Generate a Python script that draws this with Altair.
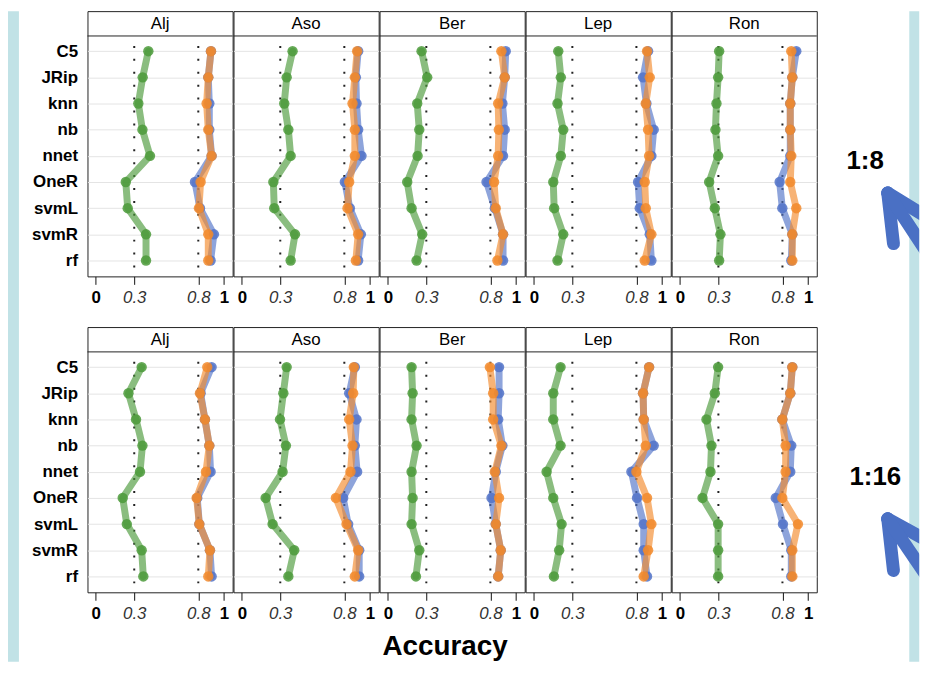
import altair as alt
import pandas as pd

sites = ["Alj", "Aso", "Ber", "Lep", "Ron"]
models = ["C5", "JRip", "knn", "nb", "nnet", "OneR", "svmL", "svmR", "rf"]
ratios = ["1:8", "1:16"]
x_ticks = [0, 0.3, 0.8, 1]
ref_lines = [0.3, 0.8]

# ---- ratio 1:8 ----
green_1_8 = {
    "Alj": [0.410, 0.366, 0.332, 0.364, 0.423, 0.234, 0.249, 0.392, 0.392],
    "Aso": [0.396, 0.350, 0.331, 0.363, 0.381, 0.246, 0.253, 0.415, 0.381],
    "Ber": [0.263, 0.307, 0.229, 0.245, 0.232, 0.151, 0.185, 0.268, 0.224],
    "Lep": [0.190, 0.210, 0.184, 0.229, 0.210, 0.151, 0.158, 0.229, 0.184],
    "Ron": [0.306, 0.298, 0.285, 0.277, 0.298, 0.228, 0.272, 0.316, 0.306],
}
blue_1_8 = {
    "Alj": [0.899, 0.878, 0.886, 0.886, 0.904, 0.774, 0.813, 0.922, 0.896],
    "Aso": [0.908, 0.890, 0.895, 0.908, 0.934, 0.804, 0.843, 0.929, 0.908],
    "Ber": [0.920, 0.912, 0.894, 0.912, 0.899, 0.770, 0.835, 0.899, 0.899],
    "Lep": [0.891, 0.852, 0.878, 0.935, 0.917, 0.813, 0.826, 0.904, 0.917],
    "Ron": [0.908, 0.877, 0.861, 0.861, 0.861, 0.778, 0.799, 0.877, 0.869],
}
orange_1_8 = {
    "Alj": [0.899, 0.878, 0.865, 0.878, 0.904, 0.818, 0.805, 0.878, 0.878],
    "Aso": [0.900, 0.882, 0.864, 0.882, 0.882, 0.838, 0.825, 0.908, 0.890],
    "Ber": [0.886, 0.912, 0.861, 0.866, 0.861, 0.829, 0.842, 0.899, 0.855],
    "Lep": [0.883, 0.904, 0.873, 0.891, 0.899, 0.865, 0.873, 0.917, 0.865],
    "Ron": [0.869, 0.877, 0.861, 0.861, 0.869, 0.861, 0.908, 0.877, 0.877],
}

# ---- ratio 1:16 ----
green_1_16 = {
    "Alj": [0.358, 0.255, 0.314, 0.364, 0.345, 0.210, 0.242, 0.358, 0.371],
    "Aso": [0.350, 0.324, 0.298, 0.344, 0.318, 0.186, 0.240, 0.409, 0.363],
    "Ber": [0.185, 0.193, 0.185, 0.224, 0.185, 0.193, 0.185, 0.245, 0.219],
    "Lep": [0.208, 0.151, 0.151, 0.208, 0.099, 0.151, 0.216, 0.197, 0.156],
    "Ron": [0.298, 0.272, 0.207, 0.246, 0.238, 0.176, 0.298, 0.298, 0.298],
}
blue_1_16 = {
    "Alj": [0.904, 0.818, 0.852, 0.886, 0.896, 0.792, 0.808, 0.891, 0.904],
    "Aso": [0.882, 0.838, 0.895, 0.882, 0.900, 0.791, 0.830, 0.916, 0.916],
    "Ber": [0.868, 0.868, 0.861, 0.894, 0.842, 0.809, 0.842, 0.881, 0.861],
    "Lep": [0.899, 0.852, 0.857, 0.935, 0.761, 0.805, 0.857, 0.857, 0.883],
    "Ron": [0.877, 0.861, 0.799, 0.869, 0.861, 0.748, 0.804, 0.869, 0.869],
}
orange_1_16 = {
    "Alj": [0.870, 0.813, 0.852, 0.886, 0.860, 0.787, 0.808, 0.891, 0.878],
    "Aso": [0.874, 0.869, 0.838, 0.864, 0.848, 0.734, 0.817, 0.908, 0.882],
    "Ber": [0.796, 0.822, 0.822, 0.886, 0.835, 0.868, 0.842, 0.881, 0.861],
    "Lep": [0.899, 0.852, 0.857, 0.873, 0.800, 0.883, 0.917, 0.891, 0.857],
    "Ron": [0.877, 0.861, 0.799, 0.825, 0.825, 0.799, 0.921, 0.877, 0.877],
}

series_data = {
    "1:8": [("blue", blue_1_8), ("orange", orange_1_8), ("green", green_1_8)],
    "1:16": [("blue", blue_1_16), ("orange", orange_1_16), ("green", green_1_16)],
}
colors = {"blue": "#5273c8", "orange": "#f28a2c", "green": "#4b9a3a"}

LIGHT_BLUE = "#c1e2e6"
FONT = "Liberation Sans"
PW = 146.1      # panel width
PH = 267        # panel height (strip + plot)
STRIP = 25
ROW_GAP = 51
LEFT_W = 79.3
SIDE_W = 102.2
BOTTOM = 655
XS = alt.Scale(domain=[-0.065, 1.068], nice=False, zero=False)
YS = alt.Scale(domain=models, range=[40.3, 251], padding=0)

one = pd.DataFrame({"a": [0]})
COND = "datum.value == 0 || datum.value == 1"


def x_axis(title=None):
    kw = dict(
        values=x_ticks, format="~g", tickSize=8, tickColor="#111", tickWidth=1, domain=False,
        grid=False, labelFontSize=17, labelPadding=5, labelFlush=False,
        labelOverlap=False, labelBound=False,
        labelColor={"condition": {"test": COND, "value": "#000"}, "value": "#333"},
        labelFontStyle={"condition": {"test": COND, "value": "normal"}, "value": "italic"},
        labelFontWeight={"condition": {"test": COND, "value": "bold"}, "value": "normal"},
    )
    if title:
        kw.update(title=title, titleFontSize=28, titleFontWeight="bold", titleX=65.5,
                  titleY=63, titleAlign="center", titleBaseline="alphabetic", titleColor="#000")
    else:
        kw.update(title=None)
    return alt.Axis(**kw)


def y_axis(show):
    if show:
        return alt.Axis(title=None, ticks=False, domain=False, grid=True, gridColor="#e4e4e4",
                        labelFontSize=17, labelFontWeight="bold", labelColor="#000", labelPadding=10)
    return alt.Axis(title=None, ticks=False, domain=False, grid=True, gridColor="#e4e4e4", labels=False)


def panel(ratio, site, show_y, title=None):
    layers = []
    thr = pd.DataFrame({"t": ref_lines})
    layers.append(
        alt.Chart(thr).mark_rule(strokeDash=[2, 11], strokeWidth=2, color="#222").encode(
            x=alt.X("t:Q", scale=XS, axis=x_axis(title)),
            y=alt.value(STRIP + 10), y2=alt.value(PH - 4),
        )
    )
    for name, d in series_data[ratio]:
        df = pd.DataFrame({"model": models, "value": d[site], "idx": list(range(len(models)))})
        base = alt.Chart(df).encode(
            x=alt.X("value:Q", scale=XS, axis=x_axis(title)),
            y=alt.Y("model:N", scale=YS, sort=models, axis=y_axis(show_y)),
            order=alt.Order("idx:Q"),
        )
        layers.append(base.mark_line(color=colors[name], strokeWidth=7, opacity=0.65,
                                     strokeCap="round", strokeJoin="round"))
        layers.append(base.mark_circle(color=colors[name], size=110, opacity=0.85))
    layers.append(
        alt.Chart(one).mark_rule(color="#222", strokeWidth=1).encode(
            x=alt.value(0), x2=alt.value(PW), y=alt.value(STRIP))
    )
    layers.append(
        alt.Chart(one).mark_text(text=site, fontSize=17, font=FONT, color="#000", baseline="middle").encode(
            x=alt.value(PW / 2), y=alt.value(STRIP / 2 + 0.5))
    )
    return alt.layer(*layers).properties(width=PW, height=PH)


def left_cell(row_i):
    h = PH + ROW_GAP if row_i == 0 else BOTTOM - (PH + ROW_GAP)
    return alt.Chart(one).mark_rect(color=LIGHT_BLUE).encode(
        x=alt.value(0), x2=alt.value(11), y=alt.value(0), y2=alt.value(h)
    ).properties(width=LEFT_W, height=PH, view=alt.ViewBackground(strokeOpacity=0))


# arrows in side-cell coordinates: tip, then the three stroke ends (barb, barb, shaft)
arrow_geo = [
    ((70.5, 183), [(76.3, 234), (117.3, 212), (132.3, 277)]),
    ((70.5, 193), [(76.3, 245), (117.3, 219), (132.3, 284)]),
]
label_pos = [(29.0, 158.7), (32.0, 159.0)]


def side_cell(row_i):
    h = PH + ROW_GAP if row_i == 0 else BOTTOM - (PH + ROW_GAP)
    layers = [
        alt.Chart(one).mark_rect(color=LIGHT_BLUE).encode(
            x=alt.value(SIDE_W - 10), x2=alt.value(SIDE_W), y=alt.value(0), y2=alt.value(h)),
    ]
    tip, ends = arrow_geo[row_i]
    for ex, ey in ends:
        layers.append(
            alt.Chart(one).mark_rule(color="#4a70c4", strokeWidth=13, strokeCap="round", clip=True).encode(
                x=alt.value(tip[0]), y=alt.value(tip[1]), x2=alt.value(ex), y2=alt.value(ey))
        )
    lx, ly = label_pos[row_i]
    layers.append(
        alt.Chart(one).mark_text(text=ratios[row_i], fontSize=26, fontWeight="bold", font=FONT,
                                 align="left", baseline="alphabetic", color="#000").encode(
            x=alt.value(lx), y=alt.value(ly))
    )
    return alt.layer(*layers).properties(width=SIDE_W, height=PH,
                                         view=alt.ViewBackground(strokeOpacity=0))


cells = []
for ri, r in enumerate(ratios):
    cells.append(left_cell(ri))
    for i, s in enumerate(sites):
        cells.append(panel(r, s, i == 0, "Accuracy" if (r == "1:16" and s == "Ber") else None))
    cells.append(side_cell(ri))

chart = alt.concat(*cells, columns=7, spacing={"row": ROW_GAP, "column": 0},
                   bounds="flush", align="each").properties(
    padding=0, background="white"
).configure(font=FONT).configure_view(stroke="#222", strokeWidth=1)

chart.save("out.html", embed_options={"renderer": "svg", "actions": False})
